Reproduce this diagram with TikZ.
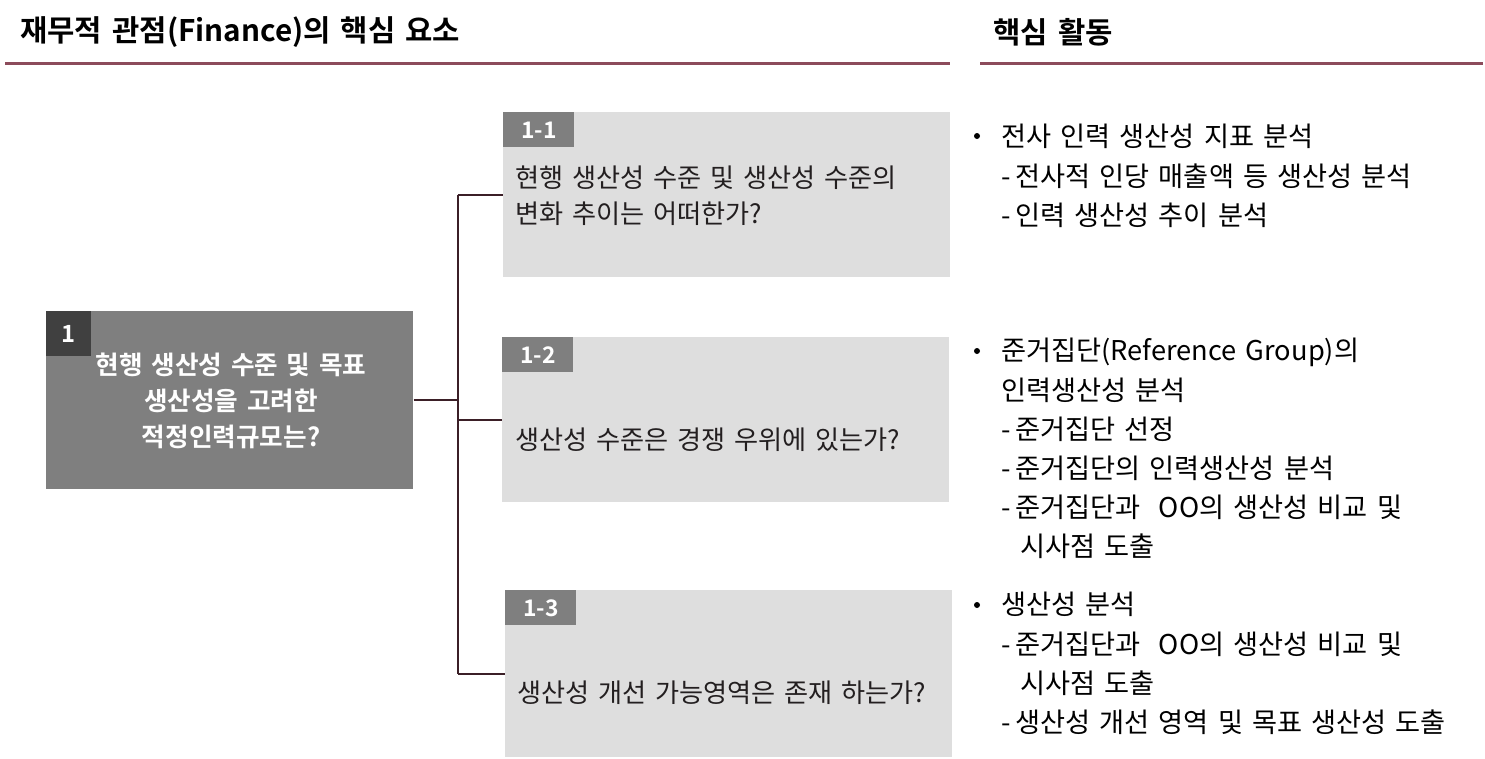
\documentclass[tikz,border=0pt]{standalone}
\usepackage{fontspec}
\setmainfont{Noto Sans CJK KR}[BoldFont={Noto Sans CJK KR Bold},WordSpace=1.5]
\usetikzlibrary{positioning}
\definecolor{HeadRose}{HTML}{8C4B5B}
\definecolor{LinkDark}{HTML}{3B1F27}
\definecolor{BoxLight}{HTML}{DEDEDE}
\definecolor{BoxMid}{HTML}{7F7F7F}
\definecolor{BoxDeep}{HTML}{404040}
\definecolor{TextDark}{HTML}{231F20}
\tikzset{
  headtext/.style={anchor=west,inner sep=0pt,font=\fontsize{16.9}{20}\selectfont\bfseries},
  headline/.style={line width=1.2pt,draw=HeadRose},
  mainbox/.style={anchor=north west,fill=BoxMid,minimum width=7.34cm,minimum height=3.56cm,inner sep=0pt},
  maintag/.style={anchor=north west,fill=BoxDeep,text=white,minimum width=0.9cm,minimum height=0.9cm,inner sep=0pt,font=\fontsize{13.5}{15}\selectfont\bfseries},
  maintext/.style={align=center,text=white,inner sep=0pt,font=\fontsize{14.6}{20.5}\selectfont\bfseries},
  qbox/.style={anchor=north west,fill=BoxLight,minimum width=8.93cm,minimum height=3.3cm,inner sep=0pt},
  qtag/.style={anchor=north west,fill=BoxMid,text=white,minimum width=1.42cm,minimum height=0.7cm,inner sep=0pt,font=\fontsize{13}{15}\selectfont\bfseries},
  qtext/.style={anchor=west,align=left,inner sep=0pt,text=TextDark,font=\fontsize{14.9}{20.4}\selectfont},
  acttext/.style={anchor=north west,align=left,inner sep=0pt,font=\fontsize{15.5}{22.3}\selectfont},
  actdot/.style={circle,fill=black,inner sep=0pt,minimum size=0.12cm},
  link/.style={line width=1.1pt,draw=LinkDark}
}
\begin{document}
\begin{tikzpicture}[x=0.02cm,y=-0.02cm]
\useasboundingbox (0,0) rectangle (1485,758);
% headers
\node[headtext] (hleft) at (20,32) {재무적 관점(Finance)의 핵심 요소};
\node[headtext] (hright) at (993,32) {핵심 활동};
\draw[headline] (5,63.5) -- (950,63.5);
\draw[headline] (980,63.5) -- (1483,63.5);
% main question
\node[mainbox] (m) at (46,311) {};
\node[maintag] (mt) at (m.north west) {1};
\node[maintext] (mq) at (231,401) {현행 생산성 수준 및 목표\\생산성을 고려한\\적정인력규모는?};
% sub questions
\node[qbox] (q1) at (503,112) {};
\node[qtag] (q1t) at (q1.north west) {1-1};
\node[qtext] (q1q) at (515,196) {현행 생산성 수준 및 생산성 수준의\\변화 추이는 어떠한가?};
\node[qbox] (q2) at (502,337) {};
\node[qtag] (q2t) at (q2.north west) {1-2};
\node[qtext] (q2q) at (515,440) {생산성 수준은 경쟁 우위에 있는가?};
\node[qbox,minimum height=3.34cm] (q3) at (505,590) {};
\node[qtag] (q3t) at (q3.north west) {1-3};
\node[qtext] (q3q) at (517,693) {생산성 개선 가능영역은 존재 하는가?};
% tree links
\draw[link] (m.east) -- ++(44,0) coordinate (fork);
\draw[link] (fork |- q1.west) -- (fork |- q3.west);
\foreach \q in {q1,q2,q3}
  \draw[link] (fork |- \q.west) -- (\q.west);
% key activities
\node[actdot] (d1) at (977,136) {};
\node[acttext] (a1) at (1001,124) {전사 인력 생산성 지표 분석\\-\,전사적 인당 매출액 등 생산성 분석\\-\,인력 생산성 추이 분석};
\node[actdot] (d2) at (977,351) {};
\node[acttext] (a2) at (1001,338) {준거집단(Reference Group)의\\인력생산성 분석\\-\,준거집단 선정\\-\,준거집단의 인력생산성 분석\\-\,준거집단과\ \ OO의 생산성 비교 및\\\hspace*{0.7em}시사점 도출};
\node[actdot] (d3) at (977,605) {};
\node[acttext] (a3) at (1001,592) {생산성 분석\\-\,준거집단과\ \ OO의 생산성 비교 및\\\hspace*{0.7em}시사점 도출\\-\,생산성 개선 영역 및 목표 생산성 도출};
\end{tikzpicture}
\end{document}
